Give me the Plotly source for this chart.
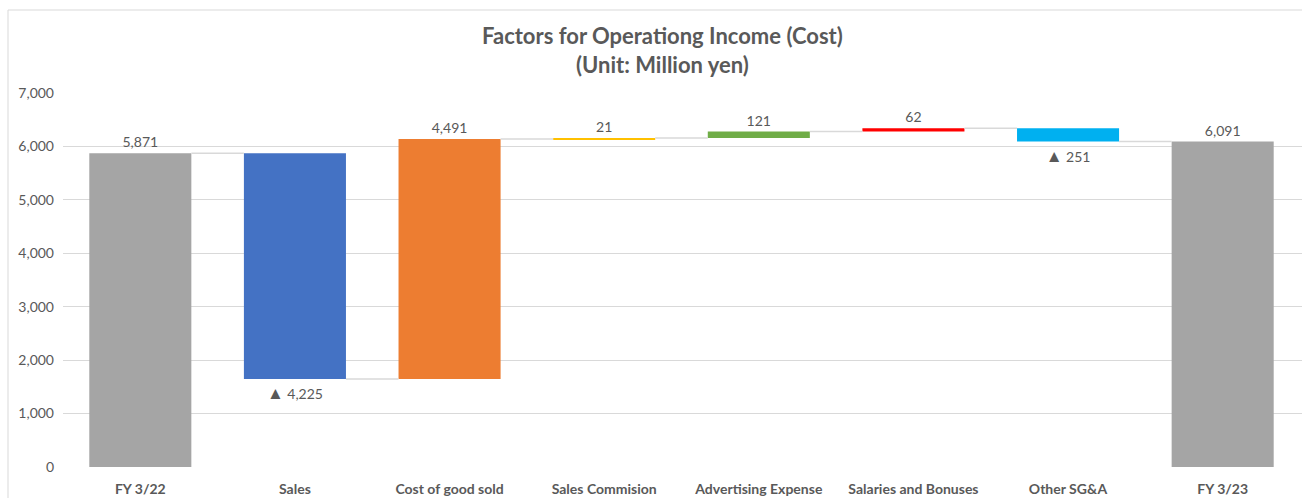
import plotly.graph_objects as go

categories = ["FY 3/22", "Sales", "Cost of good sold", "Sales Commision",
              "Advertising Expense", "Salaries and Bonuses", "Other SG&A", "FY 3/23"]
values = [5871, -4225, 4491, 21, 121, 62, -251, 6091]
is_total = [True, False, False, False, False, False, False, True]
colors = ["#A5A5A5", "#4472C4", "#ED7D31", "#FFC000", "#70AD47", "#FF0000", "#00B0F0", "#A5A5A5"]

# compute bases from running total
bases, ends = [], []
running = 0
for v, tot in zip(values, is_total):
    if tot:
        bases.append(0)
        running = v
        ends.append(v)
    else:
        bases.append(running)
        running += v
        ends.append(running)

labels = [("<span style='font-size:17px'>▲</span> " if v < 0 else "") + f"{abs(v):,}" for v in values]
xs = list(range(len(categories)))
BW = 0.66

fig = go.Figure()
fig.add_trace(go.Bar(
    x=xs, y=values, base=bases, width=BW,
    marker=dict(color=colors, line=dict(width=0)),
    text=labels, textposition="outside", constraintext="none",
    textfont=dict(family="Lato, Open Sans, sans-serif", size=14, color="#595959"),
    cliponaxis=False, showlegend=False, hoverinfo="skip",
))

# connectors
for i in range(len(values) - 1):
    level = ends[i]
    fig.add_trace(go.Scatter(
        x=[i + BW / 2, i + 1 - BW / 2], y=[level, level], mode="lines",
        line=dict(color="#D9D9D9", width=1.5), showlegend=False, hoverinfo="skip",
    ))

fig.update_layout(
    width=1302, height=498,
    margin=dict(l=63, r=0, t=93, b=31),
    paper_bgcolor="white", plot_bgcolor="white",
    font=dict(family="Lato, Open Sans, sans-serif", color="#595959"),
    bargap=0.34,
    xaxis=dict(
        tickmode="array", tickvals=xs, ticktext=[f"<b>{c}</b>" for c in categories],
        range=[-0.5, len(categories) - 0.5 + 0.013], showgrid=False, zeroline=False,
        showline=False, ticks="", tickfont=dict(size=14, color="#595959"),
        ticklabelstandoff=12,
    ),
    yaxis=dict(
        range=[0, 7000], dtick=1000, tickformat=",", showgrid=True,
        gridcolor="#D9D9D9", gridwidth=1, zeroline=False, showline=False,
        ticks="", tickfont=dict(size=14, color="#595959"), ticklabelstandoff=8,
    ),
    annotations=[dict(
        text="<b>Factors for Operationg Income (Cost)</b><br><b>(Unit: Million yen)</b>",
        xref="paper", yref="paper", x=(662 - 63) / 1239, y=(467 - 20) / 374,
        xanchor="center", yanchor="top", showarrow=False,
        font=dict(family="Lato, Open Sans, sans-serif", size=22, color="#595959"),
    )],
    shapes=[dict(
        type="rect", xref="paper", yref="paper",
        x0=(8 - 63) / 1239, x1=(1310 - 63) / 1239,
        y0=(467 - 510) / 374, y1=(467 - 10) / 374,
        line=dict(color="#D9D9D9", width=1), fillcolor="rgba(0,0,0,0)", layer="below",
    )],
)

fig.write_html("out.html")
